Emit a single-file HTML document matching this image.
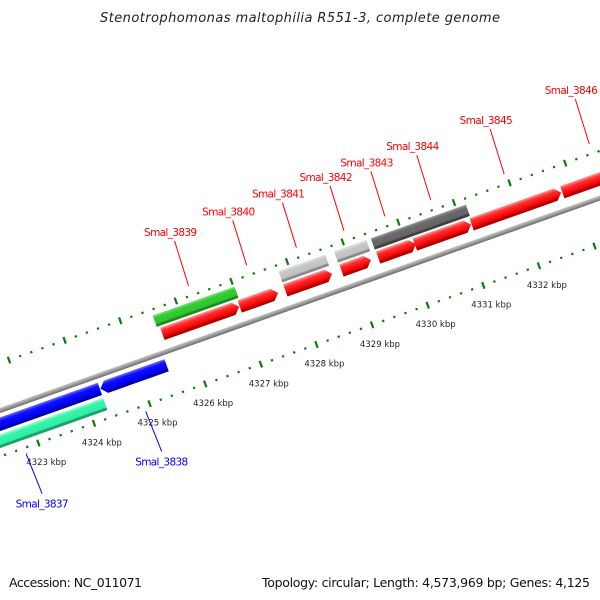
<!DOCTYPE html>
<html><head><meta charset="utf-8"><style>
html,body{margin:0;padding:0;background:#fff;}
svg{display:block;}
text{font-family:"DejaVu Sans","Liberation Sans",sans-serif;}
</style></head><body>
<svg id="chart" width="600" height="600" viewBox="0 0 600 600" xmlns="http://www.w3.org/2000/svg">
<defs>
<linearGradient id="gRed" x1="0" y1="0" x2="0" y2="1"><stop offset="0" stop-color="#ff9a9a"/><stop offset="0.25" stop-color="#ff3030"/><stop offset="0.75" stop-color="#f00000"/><stop offset="0.8" stop-color="#b80000"/><stop offset="1" stop-color="#b00000"/></linearGradient>
<linearGradient id="gGreen" x1="0" y1="0" x2="0" y2="1"><stop offset="0" stop-color="#7ee07e"/><stop offset="0.25" stop-color="#33cc33"/><stop offset="0.75" stop-color="#2ec42e"/><stop offset="0.8" stop-color="#1f8a1f"/><stop offset="1" stop-color="#1f8a1f"/></linearGradient>
<linearGradient id="gLight" x1="0" y1="0" x2="0" y2="1"><stop offset="0" stop-color="#e4e4e4"/><stop offset="0.25" stop-color="#c8c8c8"/><stop offset="0.75" stop-color="#c0c0c0"/><stop offset="0.8" stop-color="#8a8a8a"/><stop offset="1" stop-color="#8a8a8a"/></linearGradient>
<linearGradient id="gDark" x1="0" y1="0" x2="0" y2="1"><stop offset="0" stop-color="#9a9a9a"/><stop offset="0.25" stop-color="#6a6a6a"/><stop offset="0.75" stop-color="#646464"/><stop offset="0.8" stop-color="#404040"/><stop offset="1" stop-color="#404040"/></linearGradient>
<linearGradient id="gBlue" x1="0" y1="0" x2="0" y2="1"><stop offset="0" stop-color="#7070ff"/><stop offset="0.25" stop-color="#1010ff"/><stop offset="0.75" stop-color="#0000f0"/><stop offset="0.8" stop-color="#0000a8"/><stop offset="1" stop-color="#0000a8"/></linearGradient>
<linearGradient id="gTeal" x1="0" y1="0" x2="0" y2="1"><stop offset="0" stop-color="#a0ffd8"/><stop offset="0.25" stop-color="#33f5aa"/><stop offset="0.75" stop-color="#30eea5"/><stop offset="0.8" stop-color="#1fa070"/><stop offset="1" stop-color="#1fa070"/></linearGradient>
<linearGradient id="gBack" x1="0" y1="0" x2="0" y2="1"><stop offset="0" stop-color="#c8c8c8"/><stop offset="0.5" stop-color="#9a9a9a"/><stop offset="1" stop-color="#6a6a6a"/></linearGradient>
</defs>
<text x="300" y="22" text-anchor="middle" font-size="13" font-style="italic" fill="#222" textLength="400">Stenotrophomonas maltophilia R551-3, complete genome</text>
<g id="track" transform="translate(0,411) rotate(-19.5)"></g>
<g id="labels"></g>
<text x="9" y="587" font-size="12.5" fill="#111" textLength="133">Accession: NC_011071</text>
<text x="590" y="587" text-anchor="end" font-size="12.5" fill="#111" textLength="328">Topology: circular; Length: 4,573,969 bp; Genes: 4,125</text>
</svg>
<script>
const featureNames = ["Smal_3839","Smal_3840","Smal_3841","Smal_3842","Smal_3843","Smal_3844","Smal_3845","Smal_3846","","","","","","","Smal_3837","Smal_3838",""];
const featureStarts = [4325.60,4326.99,4327.81,4328.82,4329.48,4330.14,4331.16,4332.79,4325.55,4327.81,4328.81,4329.47,4330.20,4321.0,4321.2,4324.30,4321.0];
const featureEnds   = [4326.98,4327.68,4328.65,4329.35,4330.16,4331.15,4332.77,4334.20,4327.02,4328.65,4329.39,4330.20,4331.18,4321.2,4324.29,4325.49,4324.29];
const featureRows   = ["fwd","fwd","fwd","fwd","fwd","fwd","fwd","fwd","fwd2","fwd2","fwd2","fwd2","fwd2","rev","rev","rev","rev2"];
const featureFills  = ["gRed","gRed","gRed","gRed","gRed","gRed","gRed","gRed","gGreen","gLight","gLight","gDark","gDark","gBlue","gBlue","gBlue","gTeal"];
const featureArrow  = [1,1,1,1,1,1,1,1,0,0,0,0,0,0,0,1,0];
const tickLabels = ["4323 kbp","4324 kbp","4325 kbp","4326 kbp","4327 kbp","4328 kbp","4329 kbp","4330 kbp","4331 kbp","4332 kbp"];
const tickLabelKbp = [4323,4324,4325,4326,4327,4328,4329,4330,4331,4332];

const NS="http://www.w3.org/2000/svg";
const ANG=-19.5*Math.PI/180, OY=411;
function U(k){return 25.4+59*(k-4323);}
function toScreen(u,v){return [Math.cos(ANG)*u-Math.sin(ANG)*v, OY+Math.sin(ANG)*u+Math.cos(ANG)*v];}
const rowTop={fwd:-25,fwd2:-39,rev:6,rev2:22}, rowH={fwd:13,fwd2:12,rev:13,rev2:13};
const track=document.getElementById('track');
const labels=document.getElementById('labels');
function mk(tag,attrs,parent){const e=document.createElementNS(NS,tag);for(const k in attrs)e.setAttribute(k,attrs[k]);parent.appendChild(e);return e;}

const bb=mk('rect',{x:-50,y:-3,width:800,height:5,fill:'url(#gBack)'},track);



for(let k=4320;k<=4335;k+=0.2){
  const kk=Math.round(k*10)/10;
  const major=Math.abs(kk-Math.round(kk))<0.01;
  for(const vc of [-45,43]){
    const h=major?7:2.2;
    const t=mk('rect',{x:U(kk)-1,y:vc-h/2,width:2.2,height:h,fill:'#0a7a0a'},track);
    
    
  }
}
tickLabelKbp.forEach((k,i)=>{
  const p=toScreen(U(k),43);
  const t=mk('text',{x:p[0]-12,y:p[1]+22,'font-size':'8.5',fill:'#222'},labels);
  t.textContent=tickLabels[i];
  
  
});

featureStarts.forEach((s,i)=>{
  const x1=U(s),x2=U(featureEnds[i]),r=featureRows[i],y=rowTop[r],h=rowH[r];
  let pts;
  const a=6;
  if(featureArrow[i]&&r==='fwd') pts=[[x1,y],[x2-a,y],[x2,y+h/2],[x2-a,y+h],[x1,y+h]];
  else if(featureArrow[i]) pts=[[x1+a,y],[x2,y],[x2,y+h],[x1+a,y+h],[x1,y+h/2]];
  else pts=[[x1,y],[x2,y],[x2,y+h],[x1,y+h]];
  const p=mk('polygon',{points:pts.map(q=>q.join(',')).join(' '),fill:'url(#'+featureFills[i]+')'},track);
  
  
  const name=featureNames[i];
  if(!name) return;
  const mid=U((s+featureEnds[i])/2);
  const fwd=r.startsWith('fwd');
  const col=fwd?'#ff0000':'#0000ff';
  const e=toScreen(mid,fwd?-55:49);
  const st=fwd?[e[0]-14,e[1]-45]:[e[0]+16,e[1]+40];
  const ln=mk('line',{x1:e[0],y1:e[1],x2:st[0],y2:st[1],stroke:col,'stroke-width':1},labels);
  
  
  const tx=mk('text',{x:fwd?st[0]-4:st[0],y:fwd?st[1]-5:st[1]+14,'text-anchor':'middle','font-size':'10.5',fill:col,textLength:'53'},labels);
  tx.textContent=name;
  
  
});
</script>
</body></html>
